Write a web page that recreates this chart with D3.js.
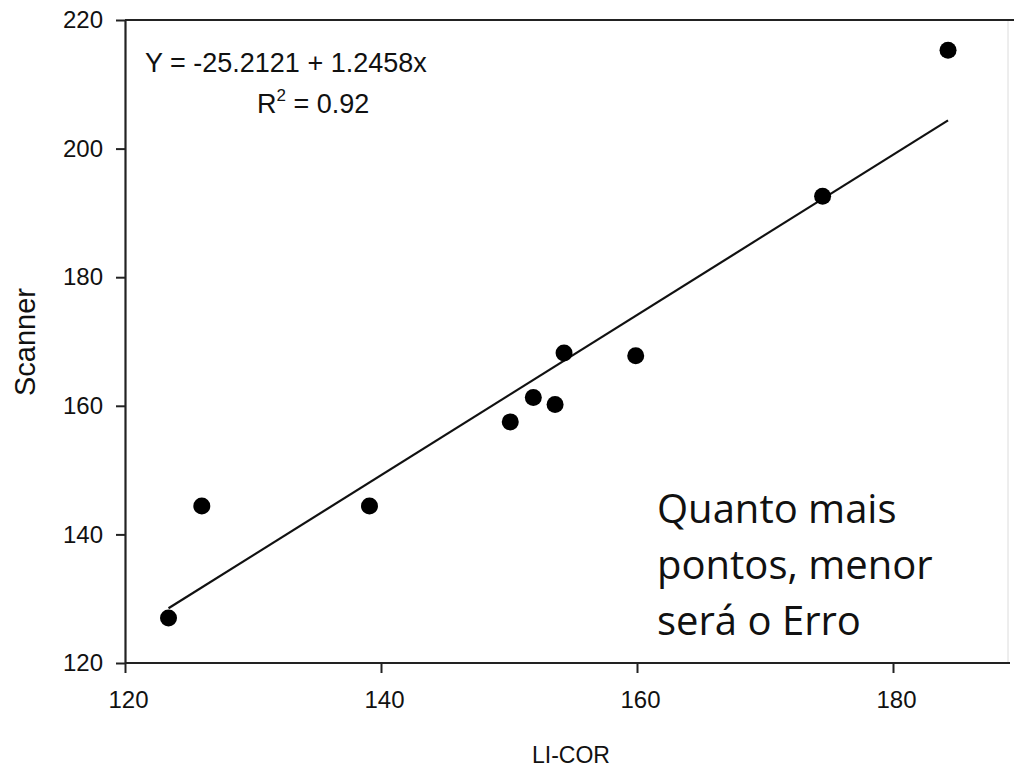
<!DOCTYPE html>
<html>
<head>
<meta charset="utf-8">
<script src="https://cdn.jsdelivr.net/npm/d3@7"></script>
<style>
  body { margin: 0; background: #fff; }
  svg text { font-family: "Liberation Sans", Arial, sans-serif; fill: #111; }
</style>
</head>
<body>
<div id="chart"></div>
<script>
// values
const licor = [123.4, 126.0, 139.1, 150.1, 151.9, 153.6, 154.3, 159.9, 174.5, 184.3];
const scanner = [127.0, 144.4, 144.4, 157.5, 161.3, 160.2, 168.2, 167.8, 192.6, 215.3];
const xTicks = [120, 140, 160, 180];
const yTicks = [120, 140, 160, 180, 200, 220];
const intercept = -25.2121;
const slope = 1.2458;
const noteLines = ['Quanto mais', 'pontos, menor', 'será o Erro'];

const width = 1014;
const height = 768;

const xScale = d3.scaleLinear()
    .domain([120, 190])
    .range([125, 1021])

const yScale = d3.scaleLinear()
    .domain([120, 220])
    .range([663, 20])

let svg = d3.select('#chart')
    .append('svg')
    .attr('width', width)
    .attr('height', height);

// note box (white, sits behind the text on the right)
svg.append('rect')
    .attr('x', 630).attr('y', 452)
    .attr('width', 378).attr('height', 208)
    .attr('fill', '#fff')

// faint right edge and top frame line
svg.append('line')
    .attr('x1', 1008).attr('x2', 1008)
    .attr('y1', yScale(220)).attr('y2', yScale(120))
    .attr('stroke', '#dcdcdc').attr('stroke-width', 1)
svg.append('line')
    .attr('x1', xScale(120)).attr('x2', width)
    .attr('y1', yScale(220)).attr('y2', yScale(220))
    .attr('stroke', '#222').attr('stroke-width', 2)

// x axis
let xAxis = svg.append('g')
    .attr('transform', `translate(0,${yScale(120)})`)
    .call(d3.axisBottom(xScale).tickValues(xTicks).tickSize(10).tickPadding(18).tickSizeOuter(0));
xAxis.select('.domain').attr('d', `M${xScale(120)},0H1010`)

// y axis
let yAxis = svg.append('g')
    .attr('transform', `translate(${xScale(120)},0)`)
    .call(d3.axisLeft(yScale).tickValues(yTicks).tickSize(9).tickPadding(13).tickSizeOuter(0));

svg.selectAll('.domain').attr('stroke', '#222').attr('stroke-width', 2.2)
svg.selectAll('.tick line').attr('stroke', '#222').attr('stroke-width', 2)
svg.selectAll('.tick text')
    .attr('font-size', 24)
    .attr('fill', '#222')
    .style('font-family', '"Liberation Sans", Arial, sans-serif')
xAxis.selectAll('.tick text').attr('dx', 3)

// axis titles
svg.append('text')
    .attr('x', 571)
    .attr('y', 763)
    .attr('text-anchor', 'middle')
    .attr('font-size', 23)
    .text('LI-COR')

svg.append('text')
    .attr('transform', 'translate(35,342) rotate(-90)')
    .attr('text-anchor', 'middle')
    .attr('font-size', 29)
    .text('Scanner')

// regression line
let xMin = d3.min(licor), xMax = d3.max(licor);
svg.append('line')
    .attr('x1', xScale(xMin)).attr('y1', yScale(intercept + slope * xMin))
    .attr('x2', xScale(xMax)).attr('y2', yScale(intercept + slope * xMax))
    .attr('stroke', '#111').attr('stroke-width', 2.2)

// points
svg.selectAll('circle')
    .data(licor.map((v, i) => ({ x: v, y: scanner[i] })))
    .enter()
    .append('circle')
    .attr('cx', d => xScale(d.x))
    .attr('cy', d => yScale(d.y))
    .attr('r', 8.5)
    .attr('fill', '#000')

// equation
svg.append('text')
    .attr('x', 145).attr('y', 72)
    .attr('font-size', 27)
    .text(`Y = ${intercept} + ${slope}x`)

let r2 = svg.append('text')
    .attr('x', 257).attr('y', 113)
    .attr('font-size', 27)
r2.append('tspan').text('R')
r2.append('tspan').attr('font-size', 17).attr('dy', -12).text('2')
r2.append('tspan').attr('dy', 12).text(' = 0.92')

svg.append('g')
    .selectAll('text')
    .data(noteLines)
    .enter()
    .append('text')
    .attr('x', 657)
    .attr('y', (d, i) => 523 + i * 56)
    .attr('font-size', 40)
    .style('font-family', '"Open Sans", sans-serif')
    .attr('fill', '#000')
    .text(d => d)
</script>
</body>
</html>
